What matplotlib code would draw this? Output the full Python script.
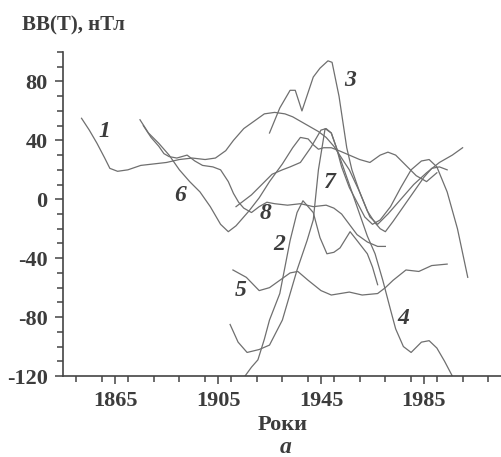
import matplotlib.pyplot as plt
from matplotlib.ticker import MultipleLocator, FixedLocator

plt.rcParams['axes.unicode_minus'] = False

# curve data: years and BB(T) values, nT
yr1 = [1852, 1855, 1858, 1861, 1863, 1866, 1870, 1875, 1880, 1885, 1890, 1895, 1900, 1904, 1908,
       1911, 1915, 1919, 1923, 1927, 1931, 1934, 1938, 1941, 1944, 1947, 1950, 1953, 1956, 1960,
       1964, 1967, 1971, 1976, 1981, 1986, 1991, 1996, 2000]
bb1 = [55, 47, 38, 28, 21, 19, 20, 23, 24, 25, 27, 28, 27, 28, 33,
       40, 48, 53, 58, 59, 58, 56, 52, 49, 46, 42, 36, 28, 20, 5,
       -12, -17, -10, 0, 10, 18, 25, 30, 35]

yr2 = [1915.5, 1918, 1920.5, 1923, 1925, 1929, 1933, 1935.7, 1938, 1942, 1944.6, 1947.3,
       1950, 1952.4, 1956.3, 1959, 1963, 1965, 1967]
bb2 = [-120, -114, -109, -95, -82, -64, -28, -9, -1, -9, -26, -37,
       -36, -33, -22, -28, -37, -46, -58]

yr3 = [1925, 1929, 1933, 1935, 1937.6, 1942, 1944.6, 1947.7, 1949.3, 1952, 1955, 1957,
       1960, 1963, 1966, 1968, 1970, 1973, 1977, 1981, 1985, 1988, 1991, 1994]
bb3 = [45, 62, 74, 74, 60, 83, 89, 94, 93, 70, 35, 20,
       5, -8, -16, -20, -22, -15, -5, 5, 15, 21, 22, 20]

yr4 = [1909.7, 1912.8, 1916.3, 1921, 1925, 1930, 1935.7, 1939.6, 1942, 1944, 1946.6, 1949,
       1951, 1954, 1957, 1960, 1963, 1966, 1969, 1972, 1974, 1977, 1980, 1984, 1987, 1990,
       1993, 1996]
bb4 = [-85, -97, -104, -102, -99, -82, -48, -28, -14, 20, 48, 45,
       35, 20, 5, -10, -25, -37, -55, -75, -88, -100, -104, -97, -96, -101,
       -110, -120]

yr5 = [1910.8, 1916, 1921, 1925, 1929, 1933, 1936, 1940, 1945, 1949, 1956, 1961,
       1967, 1970, 1973, 1978, 1983, 1988, 1994]
bb5 = [-48, -53, -62, -60, -55, -50, -49, -55, -62, -65, -63, -65,
       -64, -60, -55, -48, -49, -45, -44]

yr6 = [1874.7, 1878, 1882, 1886, 1890, 1894, 1898, 1902, 1906, 1909, 1912, 1917, 1921,
       1925, 1930, 1934, 1937, 1940, 1942, 1944, 1946, 1949, 1952, 1956, 1960, 1964, 1968,
       1971, 1974, 1978, 1982, 1986, 1990]
bb6 = [54, 45, 38, 30, 20, 12, 5, -5, -17, -22, -18, -8, 1,
       12, 24, 35, 42, 41, 37, 34, 35, 35, 33, 30, 27, 25, 30,
       32, 30, 23, 16, 12, 18]

yr7 = [1912, 1918, 1922, 1926, 1930, 1933, 1937, 1941, 1945, 1947, 1949, 1951, 1953, 1956,
       1959, 1962, 1965, 1968, 1972, 1976, 1980, 1984, 1987, 1990, 1994, 1998, 2002]
bb7 = [-5, 3, 10, 17, 20, 22, 25, 35, 47, 48, 45, 35, 22, 8,
       -2, -12, -17, -14, -5, 8, 20, 26, 27, 22, 5, -20, -53]

yr8 = [1876, 1879, 1882, 1884, 1886, 1889, 1893, 1896, 1899, 1903, 1906, 1909, 1911, 1913,
       1915, 1918, 1921, 1924, 1927, 1932, 1937, 1942, 1947, 1950, 1953, 1956, 1959, 1963,
       1967, 1970]
bb8 = [50, 42, 36, 31, 29, 28, 30, 26, 23, 22, 20, 12, 4, -2,
       -6, -9, -5, -2, -3, -4, -3, -5, -4, -6, -10, -17, -24, -29,
       -32, -32]

curve_names = ['1', '2', '3', '4', '5', '6', '7', '8']
label_yr = [1860.7, 1928.7, 1956.3, 1976.8, 1913.9, 1890.2, 1948.5, 1923.3]
label_bb = [46, -30.5, 80.7, -81, -61.7, 2.7, 11.5, -9.5]

series = [(yr1, bb1), (yr2, bb2), (yr3, bb3), (yr4, bb4),
          (yr5, bb5), (yr6, bb6), (yr7, bb7), (yr8, bb8)]

line_col = '#6f6f6f'
txt_col = '#3c3c3c'
serif = ['Liberation Serif', 'DejaVu Serif']

fig = plt.figure(figsize=(5.02, 4.57), dpi=100)
ax = fig.add_axes([0.1255, 0.1772, 0.8745, 0.709])

for x, y in series:
    ax.plot(x, y, color=line_col, lw=0.9)

for name, x, y in zip(curve_names, label_yr, label_bb):
    ax.text(x, y, name, fontsize=17, fontweight='bold', fontstyle='italic',
            family=serif, color=txt_col, ha='center', va='center')

ax.set_xlim(1844.8, 2015.3)
ax.set_ylim(-120, 100)
ax.xaxis.set_major_locator(FixedLocator([1865, 1905, 1945, 1985]))
ax.xaxis.set_minor_locator(MultipleLocator(10))
ax.yaxis.set_major_locator(MultipleLocator(40))
ax.yaxis.set_minor_locator(MultipleLocator(10))

for s in ['top', 'right']:
    ax.spines[s].set_visible(False)
for s in ['left', 'bottom']:
    ax.spines[s].set_color('#444444')
    ax.spines[s].set_linewidth(1.2)

ax.tick_params(which='major', length=6, width=1.1, color='#444444', labelsize=16,
               labelcolor=txt_col, pad=5)
ax.tick_params(which='minor', length=4, width=1.1, color='#444444')
for lab in ax.get_xticklabels() + ax.get_yticklabels():
    lab.set_family(serif)
    lab.set_fontweight('bold')

fig.text(0.044, 0.945, 'BB(T), нТл', fontsize=15, fontweight='bold', family=serif,
         color=txt_col, va='center')
fig.text(0.563, 0.07, 'Роки', fontsize=16, fontweight='bold', family=serif,
         color=txt_col, ha='center', va='center')
fig.text(0.57, 0.02, 'а', fontsize=17, fontweight='bold', fontstyle='italic', family=serif,
         color=txt_col, ha='center', va='center')

fig.savefig('out.png', dpi=100)
